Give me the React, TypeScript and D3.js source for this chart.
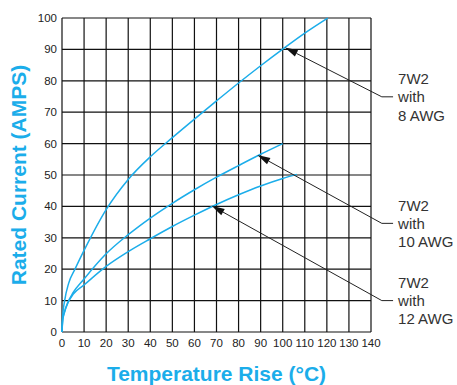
import React from "react";
import * as d3 from "d3";

const xTicks = [0, 10, 20, 30, 40, 50, 60, 70, 80, 90, 100, 110, 120, 130, 140];
const yTicks = [0, 10, 20, 30, 40, 50, 60, 70, 80, 90, 100];

const awg8X = [0, 0.3, 1.2, 3, 6, 10, 20, 30, 40, 50, 60, 70, 80, 90, 100, 110, 120.4];
const awg8Y = [0, 5, 10, 15.5, 20.2, 26, 39, 48.6, 55.8, 61.9, 67.8, 73.6, 79.3, 84.8, 90.1, 95.2, 100];

const awg10X = [0, 0.3, 1, 2.5, 5, 10, 20, 30, 40, 50, 60, 70, 80, 90, 100];
const awg10Y = [0, 4, 6, 9.2, 12.5, 16.9, 24.9, 31, 36.3, 41, 45.3, 49.3, 53, 56.6, 60];

const awg12X = [0, 0.3, 1, 3, 5, 10, 20, 30, 40, 50, 60, 70, 80, 90, 100, 106.4];
const awg12Y = [0, 3.5, 6, 9.7, 12, 15, 20.9, 25.6, 29.7, 33.6, 37.2, 40.6, 43.7, 46.5, 48.9, 50.2];

const labelLines = [
  ["7W2", "with", "8 AWG"],
  ["7W2", "with", "10 AWG"],
  ["7W2", "with", "12 AWG"],
];
const tipX = [101, 88.5, 67.8];
const tipY = [90.6, 56.4, 40.2];
const elbowX = [144.9, 144.9, 144.9];
const elbowY = [74.9, 34.6, 10];
const endX = [150, 150, 150];

const BLUE = "#1badea";

export default function App() {
  const W = 457, H = 385;
  const x = d3.scaleLinear().domain([0, 140]).range([62, 371]);
  const y = d3.scaleLinear().domain([0, 100]).range([332, 18]);

  const line = d3
    .line<[number, number]>()
    .x((d) => x(d[0]))
    .y((d) => y(d[1]))
    .curve(d3.curveMonotoneX);

  const series = [
    awg8X.map((v, i) => [v, awg8Y[i]] as [number, number]),
    awg10X.map((v, i) => [v, awg10Y[i]] as [number, number]),
    awg12X.map((v, i) => [v, awg12Y[i]] as [number, number]),
  ];

  const font = "'Liberation Sans', Arial, Helvetica, sans-serif";

  return (
    <svg
      width={W}
      height={H}
      style={{ position: "fixed", left: 0, top: 0, background: "#fff" }}
      fontFamily={font}
    >
      {xTicks.map((t) => (
        <line key={"gx" + t} x1={x(t)} x2={x(t)} y1={y(0)} y2={y(100)} stroke="#111" strokeWidth={1.2} />
      ))}
      {yTicks.map((t) => (
        <line key={"gy" + t} x1={x(0)} x2={x(140)} y1={y(t)} y2={y(t)} stroke="#111" strokeWidth={1.2} />
      ))}
      {xTicks.map((t) => (
        <text key={"tx" + t} x={x(t)} y={y(0) + 15} fontSize={11.5} textAnchor="middle" fill="#222">
          {t}
        </text>
      ))}
      {yTicks.map((t) => (
        <text key={"ty" + t} x={x(0) - 5} y={y(t) + 4} fontSize={11.5} textAnchor="end" fill="#222">
          {t}
        </text>
      ))}
      {series.map((s, i) => (
        <path key={"s" + i} d={line(s) || ""} fill="none" stroke={BLUE} strokeWidth={1.5} />
      ))}
      {labelLines.map((lines, i) => {
        const tx = x(tipX[i]), ty = y(tipY[i]);
        const ex = x(elbowX[i]), ey = y(elbowY[i]);
        const fx = x(endX[i]);
        const ang = Math.atan2(ey - ty, ex - tx);
        const L = 13, Wd = 3.6;
        const bx = tx + L * Math.cos(ang), by = ty + L * Math.sin(ang);
        const px = -Math.sin(ang) * Wd, py = Math.cos(ang) * Wd;
        const head = `M${tx},${ty}L${bx + px},${by + py}L${bx - px},${by - py}Z`;
        return (
          <g key={"a" + i}>
            <polyline points={`${bx},${by} ${ex},${ey} ${fx},${ey}`} fill="none" stroke="#222" strokeWidth={1} />
            <path d={head} fill="#111" />
            {lines.map((ln, j) => (
              <text key={j} x={fx + 5} y={ey + 5.5 + (j - 1) * 18.3} fontSize={15} fill="#333">
                {ln}
              </text>
            ))}
          </g>
        );
      })}
      <text x={(x(0) + x(140)) / 2} y={381} fontSize={21} fontWeight="bold" fill={BLUE} textAnchor="middle">
        Temperature Rise (°C)
      </text>
      <text
        transform={`translate(26,${(y(0) + y(100)) / 2}) rotate(-90)`}
        fontSize={21}
        fontWeight="bold"
        fill={BLUE}
        textAnchor="middle"
      >
        Rated Current (AMPS)
      </text>
    </svg>
  );
}
